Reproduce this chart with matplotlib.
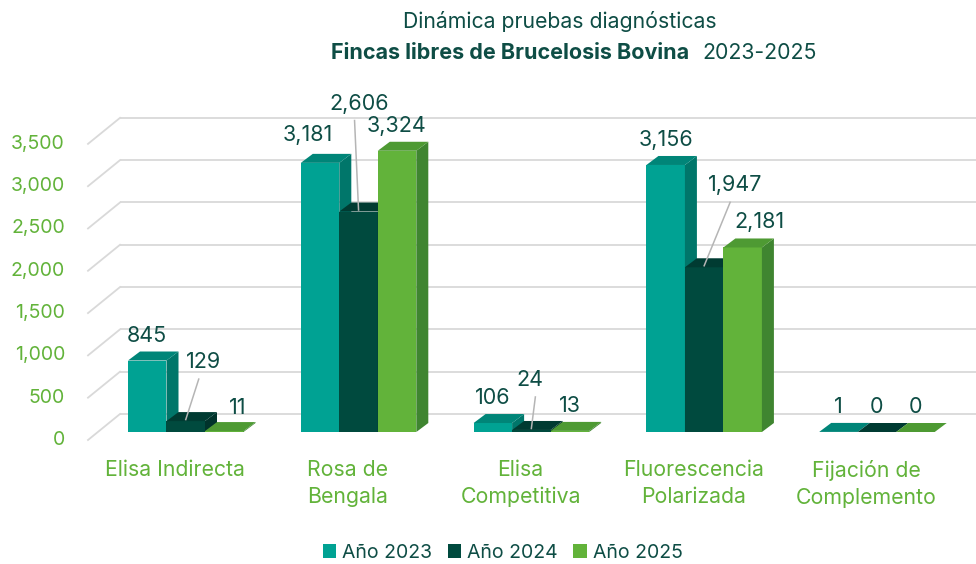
import matplotlib
matplotlib.use("Agg")
import matplotlib.pyplot as plt
from matplotlib.patches import Polygon, Patch
import numpy as np

plt.rcParams['font.family'] = ['Inter', 'DejaVu Sans']

# ---- data ----
categories = ["Elisa Indirecta", "Rosa de\nBengala", "Elisa\nCompetitiva",
              "Fluorescencia\nPolarizada", "Fijación de\nComplemento"]
series_names = ["Año 2023", "Año 2024", "Año 2025"]
v2023 = [845, 3181, 106, 3156, 1]
v2024 = [129, 2606, 24, 1947, 0]
v2025 = [11, 3324, 13, 2181, 0]
yticks = [0, 500, 1000, 1500, 2000, 2500, 3000, 3500]

# ---- styles ----
front_cols = ["#00A293", "#004A3E", "#62B33A"]
side_cols = ["#00766A", "#00332B", "#3F8530"]
top_cols = ["#008578", "#003B32", "#4E9A33"]
green_txt = "#62B33A"
dark_txt = "#0E4D45"
grid_col = "#D9D9D9"
FS = 14

# label offsets in px (dx, dy-up) relative to default position, plus leader flag
label_adj = {
    (0, 1): (18, 34, True), (0, 2): (13, -2, False),
    (1, 0): (-12, 3, False), (1, 1): (1, 83, True),
    (2, 1): (-1, 25, True),
    (3, 1): (31, 57, True), (3, 2): (17, 0, False),
}

W, H = 976, 564
fig = plt.figure(figsize=(W / 100, H / 100), dpi=100)
ax_l, ax_r, ax_t, ax_b = 98, 954, 100, 432
ax = fig.add_axes([ax_l / W, (H - ax_b) / H, (ax_r - ax_l) / W, (ax_b - ax_t) / H])
xlim = (-0.4456, 4.508)
ylim = (0, 3924)
ax.set_xlim(*xlim)
ax.set_ylim(*ylim)
ax.axis('off')
sx = (ax_r - ax_l) / (xlim[1] - xlim[0])
sy = (ax_b - ax_t) / (ylim[1] - ylim[0])

def px(dx, dy):
    return dx / sx, dy / sy

# back wall & left wall grid
bdx, bdy = px(22, 18)
fdx, fdy = px(-10, -8)
for v in yticks:
    ax.plot([xlim[0] + bdx, xlim[1] + bdx + 0.3], [v + bdy, v + bdy], color=grid_col,
            lw=1.3, zorder=0, clip_on=False, solid_capstyle='butt')
    ax.plot([xlim[0] + fdx, xlim[0] + bdx], [v + fdy, v + bdy], color=grid_col,
            lw=1.3, zorder=0, clip_on=False)
    ax.text(xlim[0] + fdx - 23 / sx, v + fdy, f"{v:,}", ha='right', va='center',
            fontsize=FS, color=green_txt)

# bars
all_vals = [v2023, v2024, v2025]
x = np.arange(len(categories))
bw = 0.2228
off0 = -0.272
ddx, ddy = px(12, 9)
for j, vals in enumerate(all_vals):
    lefts = x + off0 + j * bw
    ax.bar(lefts, vals, width=bw, align='edge', color=front_cols[j], zorder=2 + 3 * j,
           linewidth=0)
    for i, (x0, h) in enumerate(zip(lefts, vals)):
        top = Polygon([(x0, h), (x0 + ddx, h + ddy), (x0 + bw + ddx, h + ddy), (x0 + bw, h)],
                      closed=True, facecolor=top_cols[j], edgecolor='none', zorder=3 + 3 * j)
        side = Polygon([(x0 + bw, 0), (x0 + bw, h), (x0 + bw + ddx, h + ddy), (x0 + bw + ddx, ddy)],
                       closed=True, facecolor=side_cols[j], edgecolor='none', zorder=3 + 3 * j)
        ax.add_patch(side)
        ax.add_patch(top)
        # data label
        cx = x0 + bw / 2
        cy = h + 25 / sy
        adj = label_adj.get((i, j))
        if adj:
            lx, ly = cx + adj[0] / sx, cy + adj[1] / sy
            if adj[2]:
                ax.plot([cx, lx - 5 / sx * np.sign(adj[0])], [h - 3 / sy + ddy / 2, ly - 17 / sy],
                        color="#B5B5B5", lw=1.1, zorder=20, clip_on=False)
        else:
            lx, ly = cx, cy
        ax.text(lx, ly, f"{h:,}", ha='center', va='center', fontsize=15.5, color=dark_txt,
                zorder=21)

# category labels
for i, c in enumerate(categories):
    ax.text(i, -28 / sy, c, ha='center', va='top', fontsize=15.3, color=green_txt,
            linespacing=1.42, clip_on=False)

# title
fig.text(560 / W, 1 - 22 / H, "Dinámica pruebas diagnósticas", ha='center', va='center',
         fontsize=15.3, color=dark_txt)
fig.text(689 / W, 1 - 53 / H, "Fincas libres de Brucelosis Bovina", ha='right', va='center',
         fontsize=15.5, color=dark_txt, fontweight='bold')
fig.text(702 / W, 1 - 53 / H, "2023-2025", ha='left', va='center',
         fontsize=15.3, color=dark_txt)

handles = [Patch(facecolor=c, edgecolor='none') for c in front_cols]
fig.legend(handles, series_names, loc='center', bbox_to_anchor=(0.515, 1 - 553 / H), ncol=3,
           frameon=False, fontsize=FS, handlelength=0.7, handleheight=0.7,
           handletextpad=0.3, columnspacing=0.8, labelcolor=dark_txt)

fig.savefig("out.png", dpi=100)
